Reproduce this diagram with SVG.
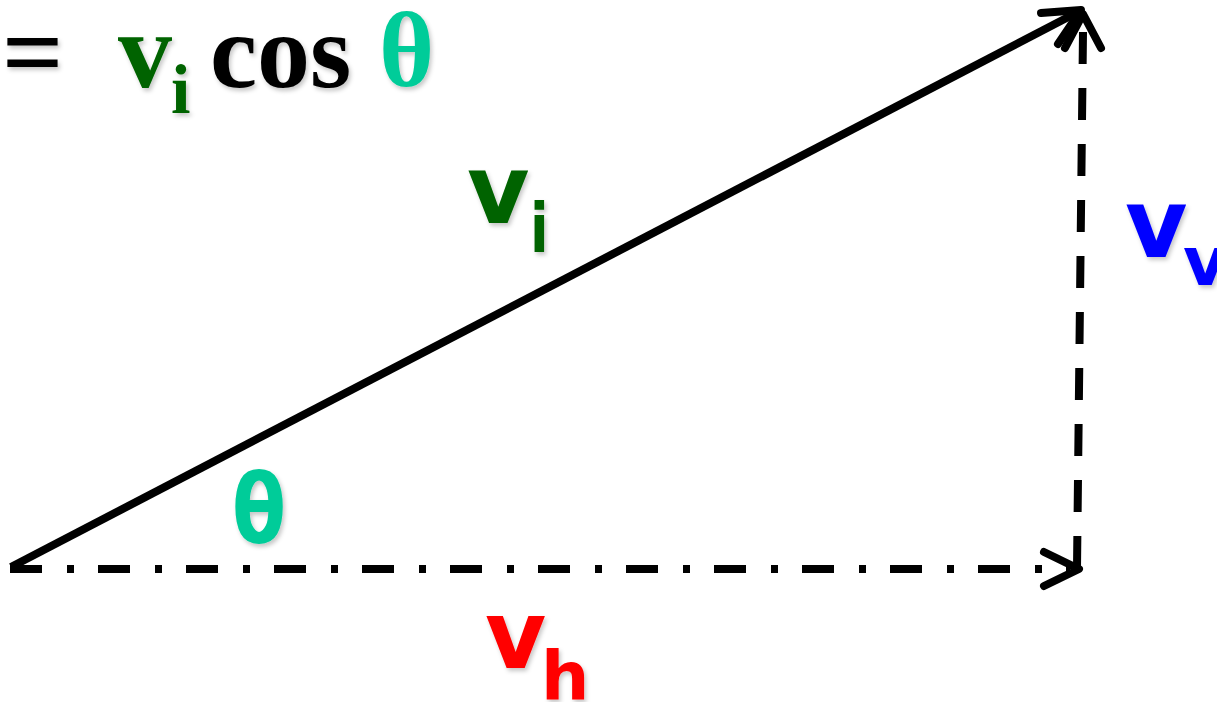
<svg xmlns="http://www.w3.org/2000/svg" width="1217" height="702" viewBox="0 0 1217 702">
<defs>
<filter id="sh" x="-20%" y="-20%" width="150%" height="150%">
<feDropShadow dx="2" dy="3" stdDeviation="2" flood-color="#000" flood-opacity="0.22"/>
</filter>
</defs>
<style>
.serif{font-family:"Liberation Serif","Times New Roman",serif;font-weight:bold}
.sans{font-family:"DejaVu Sans",Verdana,sans-serif;font-weight:bold}
.green{fill:#006400}
.teal{fill:#00CC99}
.ln{fill:none;stroke:#000;stroke-width:8}
.head{fill:none;stroke:#000;stroke-width:8;stroke-linecap:round;stroke-linejoin:round}
</style>
<rect width="1217" height="702" fill="#fff"/>
<g id="connectors">
<line class="ln" x1="11" y1="567" x2="1078" y2="12"/>
<path class="head" d="M1041,13 L1081,10 L1058,44"/>
<line class="ln" x1="10" y1="569" x2="1070" y2="569" stroke-dasharray="32 25 7 24"/>
<path class="head" d="M1044,552 L1079,569 L1044,586"/>
<line class="ln" x1="1083" y1="32" x2="1077" y2="568" stroke-dasharray="32 24"/>
<path class="head" d="M1065,48 L1083,14 L1101,48"/>
</g>
<g id="formula" filter="url(#sh)">
<text class="serif" x="2" y="88" font-size="108">=</text>
<text class="serif green" x="118" y="87" font-size="108">v</text>
<text class="serif green" x="171" y="113" font-size="70">i</text>
<text class="serif" x="210" y="87" font-size="106">cos</text>
<text class="serif teal" x="379" y="86" font-size="106">θ</text>
</g>
<g id="label-vi" filter="url(#sh)">
<text class="sans green" x="467" y="223" font-size="96">v</text>
<text class="sans green" transform="translate(530,252) scale(0.8,1)" x="0" y="0" font-size="68">i</text>
</g>
<g id="label-theta" filter="url(#sh)">
<text class="sans teal" transform="translate(232,543) scale(0.82,1)" x="0" y="0" font-size="96">θ</text>
</g>
<g id="label-vv" filter="url(#sh)">
<text class="sans" x="1125" y="257" font-size="96" fill="#0000FF">v</text>
<text class="sans" x="1183" y="285" font-size="68" fill="#0000FF">v</text>
</g>
<g id="label-vh" filter="url(#sh)">
<text class="sans" x="485" y="668" font-size="94" fill="#FF0000">v</text>
<text class="sans" x="541" y="700" font-size="68" fill="#FF0000">h</text>
</g>
</svg>
